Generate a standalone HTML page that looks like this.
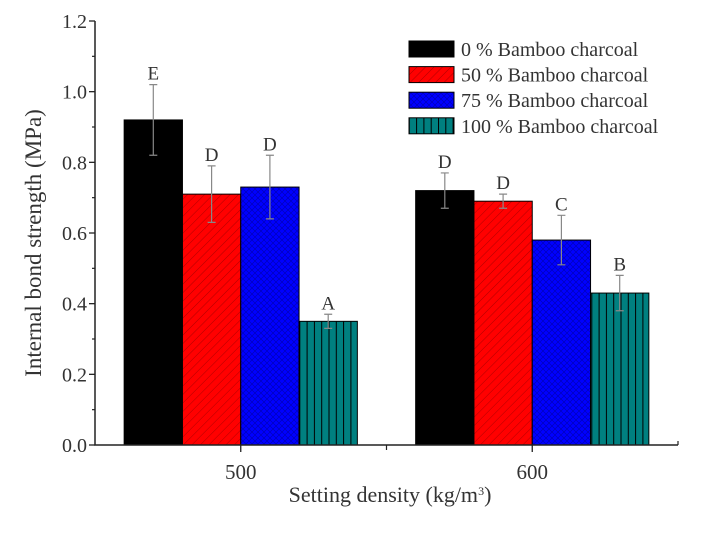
<!DOCTYPE html>
<html><head><meta charset="utf-8"><style>
body{margin:0;background:#fff}
svg{font-family:"Liberation Serif",serif}
</style></head><body>
<svg id="c" width="701" height="528" viewBox="0 0 701 528">
<defs>
<pattern id="pRed" patternUnits="userSpaceOnUse" width="6" height="6" patternTransform="rotate(45)">
<rect width="6" height="6" fill="#ff0000"/><line x1="0" y1="0" x2="0" y2="6" stroke="#b00000" stroke-width="1"/></pattern>
<pattern id="pBlue" patternUnits="userSpaceOnUse" width="6" height="6">
<rect width="6" height="6" fill="#0000ff"/><path d="M0,0L6,6M6,0L0,6" stroke="#0000b0" stroke-width="0.6"/></pattern>
<pattern id="pTeal" patternUnits="userSpaceOnUse" width="7.3" height="10">
<rect width="7.3" height="10" fill="#008080"/><line x1="0.5" y1="0" x2="0.5" y2="10" stroke="#000" stroke-width="1"/></pattern>
</defs>
<g id="plot"></g>
</svg>
<script>
const categories = [500, 600];
const seriesNames = ["0 % Bamboo charcoal","50 % Bamboo charcoal","75 % Bamboo charcoal","100 % Bamboo charcoal"];
const s0 = [0.92, 0.72];
const s1 = [0.71, 0.69];
const s2 = [0.73, 0.58];
const s3 = [0.35, 0.43];
const e0 = [0.10, 0.05];
const e1 = [0.08, 0.02];
const e2 = [0.09, 0.07];
const e3 = [0.02, 0.05];
const l0 = ["E","D"];
const l1 = ["D","D"];
const l2 = ["D","C"];
const l3 = ["A","B"];
const yTicks = [0.0,0.2,0.4,0.6,0.8,1.0,1.2];

const NS="http://www.w3.org/2000/svg";
const g=document.getElementById('plot');
const X0=95,X1=678,Y0=445,Y1=21;
const xs=v=>X0+(v-450)/200*(X1-X0);
const ys=v=>Y0-v/1.2*(Y0-Y1);
const bw=(xs(600)-xs(500))*0.2;
function el(t,a,txt){const e=document.createElementNS(NS,t);for(const k in a)e.setAttribute(k,a[k]);if(txt!=null)e.textContent=txt;g.appendChild(e);return e;}
const fills=["#000","url(#pRed)","url(#pBlue)","url(#pTeal)"];
const vals=[s0,s1,s2,s3],errs=[e0,e1,e2,e3],labs=[l0,l1,l2,l3];
vals.forEach((sv,si)=>{sv.forEach((v,ci)=>{
 const x=xs(categories[ci])+(si-2)*bw;
 const b=el('rect',{x:x,y:ys(v),width:bw,height:ys(0)-ys(v),fill:fills[si],stroke:"#000","stroke-width":1});
 
 
 const cx=x+bw/2,et=ys(v+errs[si][ci]),eb=ys(v-errs[si][ci]);
 const eb_=el('path',{d:`M${cx},${et}V${eb}M${cx-4},${et}H${cx+4}M${cx-4},${eb}H${cx+4}`,stroke:"#888","stroke-width":1.2,fill:"none"});
 
 
 const t=el('text',{x:cx,y:et-5,"text-anchor":"middle","font-size":19,fill:"#333"},labs[si][ci]);
 
 
});});
const ax=el('path',{d:`M${X0},${Y1}V${Y0}H${X1}`,stroke:"#222","stroke-width":1.5,fill:"none"});


yTicks.forEach(v=>{
 el('line',{x1:X0-6,x2:X0,y1:ys(v),y2:ys(v),stroke:"#222","stroke-width":1.3});
 el('line',{x1:X0-3,x2:X0,y1:ys(v+0.1),y2:ys(v+0.1),stroke:"#222","stroke-width":1.2}).setAttribute('visibility',v<1.2?'visible':'hidden');
 const t=el('text',{x:X0-8,y:ys(v)+7,"text-anchor":"end","font-size":20,fill:"#333"},v.toFixed(1));
 
 
});
categories.forEach(c=>{
 el('line',{x1:xs(c),x2:xs(c),y1:Y0,y2:Y0+7,stroke:"#222","stroke-width":1.3});
 const t=el('text',{x:xs(c),y:Y0+34,"text-anchor":"middle","font-size":21,fill:"#333"},String(c));
 
 
});
el('line',{x1:xs(550),x2:xs(550),y1:Y0,y2:Y0+5,stroke:"#222","stroke-width":1.2});
el('line',{x1:X1,x2:X1,y1:Y0-4,y2:Y0,stroke:"#222","stroke-width":1.2});
const yt=el('text',{x:0,y:0,"text-anchor":"middle","font-size":23,fill:"#333",transform:"translate(41,243) rotate(-90)"},"Internal bond strength (MPa)");


const xt=el('text',{x:390,y:502,"text-anchor":"middle","font-size":22,fill:"#333"},"Setting density (kg/m");


const ts=document.createElementNS(NS,'tspan');ts.setAttribute('baseline-shift','super');ts.setAttribute('font-size','12');ts.textContent='3';xt.appendChild(ts);
const ts2=document.createElementNS(NS,'tspan');ts2.setAttribute('baseline-shift','baseline');ts2.textContent=')';xt.appendChild(ts2);
seriesNames.forEach((n,i)=>{
 const y=41+i*25.6;
 const r=el('rect',{x:409,y:y,width:45,height:16,fill:fills[i],stroke:"#000","stroke-width":1});
 
 
 const t=el('text',{x:461,y:y+15,"font-size":20,fill:"#333"},n);
 
 
});
</script>
</body></html>
